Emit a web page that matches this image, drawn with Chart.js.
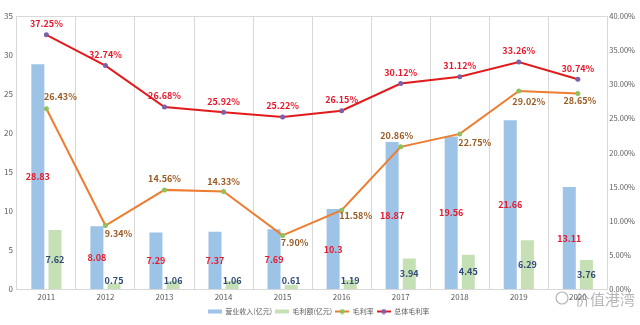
<!DOCTYPE html>
<html>
<head>
<meta charset="utf-8">
<script src="https://cdn.jsdelivr.net/npm/chart.js@4"></script>
<style>
html,body{margin:0;padding:0;background:#fff;}
#wrap{width:640px;height:325px;}
</style>
</head>
<body>
<div id="wrap"><canvas id="c" width="640" height="325"></canvas></div>
<script>
const years=["2011","2012","2013","2014","2015","2016","2017","2018","2019","2020"];
const revenue=[28.83,8.08,7.29,7.37,7.69,10.3,18.87,19.56,21.66,13.11];
const grossProfit=[7.62,0.75,1.06,1.06,0.61,1.19,3.94,4.45,6.29,3.76];
const grossMargin=[26.43,9.34,14.56,14.33,7.90,11.58,20.86,22.75,29.02,28.65];
const totalMargin=[37.25,32.74,26.68,25.92,25.22,26.15,30.12,31.12,33.26,30.74];
const leftTicks=[0,5,10,15,20,25,30,35];
const rightTicks=[0,5,10,15,20,25,30,35,40];

// label offsets for the orange series (style only)
const gmOffset=[[14,-12],[13,8],[0,-11],[0,-10],[12,7],[14,5],[-4,-11],[15,9],[10,11],[2,7]];

const FONT='"Noto Sans CJK SC","Noto Sans",sans-serif';

function legendIcon(kind,color,dot){
let cv=document.createElement("canvas");
cv.width=14;cv.height=6;
let g=cv.getContext("2d");
if(kind==="box"){
g.fillStyle=color;g.fillRect(0,1,14,4);
}else{
g.strokeStyle=color;g.lineWidth=2;
g.beginPath();g.moveTo(0,3);g.lineTo(14,3);g.stroke();
g.fillStyle=dot;g.beginPath();g.arc(7,3,2.5,0,Math.PI*2);g.fill();
}
return cv;
}

const labelPlugin={
id:"labels",
afterDatasetsDraw(chart){
let ctx=chart.ctx;
let base=chart.scales.y.getPixelForValue(0);
ctx.save();
ctx.textAlign="center";
ctx.textBaseline="middle";
ctx.font="bold 9px "+FONT;

// bars
let m0=chart.getDatasetMeta(0);
m0.data.forEach((el,i)=>{
let y=Math.min((el.y+base)/2,base-9);
ctx.fillStyle="#e8182b";
ctx.fillText(String(revenue[i]),el.x,y);
});
let m1=chart.getDatasetMeta(1);
m1.data.forEach((el,i)=>{
let y=Math.min((el.y+base)/2,base-9);
ctx.fillStyle="#2f4a78";
ctx.fillText(grossProfit[i].toFixed(2),el.x,y);
});

// orange line labels
let m2=chart.getDatasetMeta(2);
m2.data.forEach((el,i)=>{
let o=gmOffset[i];
ctx.fillStyle="#9a5a22";
ctx.fillText(grossMargin[i].toFixed(2)+"%",el.x+o[0],el.y+o[1]);
});

// red line labels
let m3=chart.getDatasetMeta(3);
m3.data.forEach((el,i)=>{
ctx.fillStyle="#e8182b";
ctx.fillText(totalMargin[i].toFixed(2)+"%",el.x,el.y-11);
});

// watermark
ctx.font="15px "+FONT;
ctx.fillStyle="rgba(120,120,120,0.55)";
ctx.textAlign="left";
ctx.fillText("价值港湾",575,299);
ctx.strokeStyle="rgba(120,120,120,0.55)";
ctx.lineWidth=1.2;
ctx.beginPath();ctx.arc(562,298,6,0,Math.PI*2);ctx.stroke();
ctx.restore();
}
};

new Chart(document.getElementById("c"),{
type:"bar",
data:{
labels:years,
datasets:[
{label:"营业收入(亿元)",data:revenue,backgroundColor:"#9dc3e6",yAxisID:"y",order:3,
barPercentage:0.76,categoryPercentage:0.58},
{label:"毛利额(亿元)",data:grossProfit,backgroundColor:"#c5e0b4",yAxisID:"y",order:3,
barPercentage:0.76,categoryPercentage:0.58},
{type:"line",label:"毛利率",data:grossMargin,yAxisID:"y2",order:1,
borderColor:"#ed7d31",borderWidth:2,pointRadius:2.5,pointBorderWidth:0,pointBackgroundColor:"#92c05a",
pointBorderColor:"#92c05a",tension:0},
{type:"line",label:"总体毛利率",data:totalMargin,yAxisID:"y2",order:0,
borderColor:"#e31a1c",borderWidth:2,pointRadius:2.5,pointBorderWidth:0,pointBackgroundColor:"#7b62a8",
pointBorderColor:"#7b62a8",tension:0}
]
},
options:{
responsive:false,
animation:false,
layout:{padding:{top:16,left:0,right:3,bottom:0}},
plugins:{
tooltip:{enabled:false},
legend:{
position:"bottom",
labels:{
usePointStyle:true,
pointStyleWidth:14,
padding:3,
color:"#595959",
font:{size:7,family:FONT},
generateLabels(chart){
return [
{text:"营业收入(亿元)",pointStyle:legendIcon("box","#9dc3e6"),datasetIndex:0,fontColor:"#595959"},
{text:"毛利额(亿元)",pointStyle:legendIcon("box","#c5e0b4"),datasetIndex:1,fontColor:"#595959"},
{text:"毛利率",pointStyle:legendIcon("line","#ed7d31","#92c05a"),datasetIndex:2,fontColor:"#595959"},
{text:"总体毛利率",pointStyle:legendIcon("line","#e31a1c","#7b62a8"),datasetIndex:3,fontColor:"#595959"}
];
}
}
}
},
scales:{
x:{
grid:{color:"#d9d9d9",drawTicks:false},
border:{color:"#d9d9d9"},
ticks:{color:"#595959",font:{size:8,family:FONT},padding:3}
},
y:{
position:"left",
min:0,max:35,
afterBuildTicks(s){s.ticks=leftTicks.map(v=>({value:v}));},
grid:{color:(c)=>c.tick&&c.tick.value===35?"#d9d9d9":"transparent",drawTicks:false},
border:{display:false},
ticks:{color:"#595959",font:{size:8,family:FONT},padding:4}
},
y2:{
position:"right",
min:0,max:40,
afterBuildTicks(s){s.ticks=rightTicks.map(v=>({value:v}));},
grid:{display:false,drawTicks:false},
border:{display:false},
ticks:{color:"#595959",font:{size:7.5,family:FONT},padding:2,
callback:(v)=>v.toFixed(2)+"%"}
}
}
},
plugins:[labelPlugin]
});
</script>
</body>
</html>
